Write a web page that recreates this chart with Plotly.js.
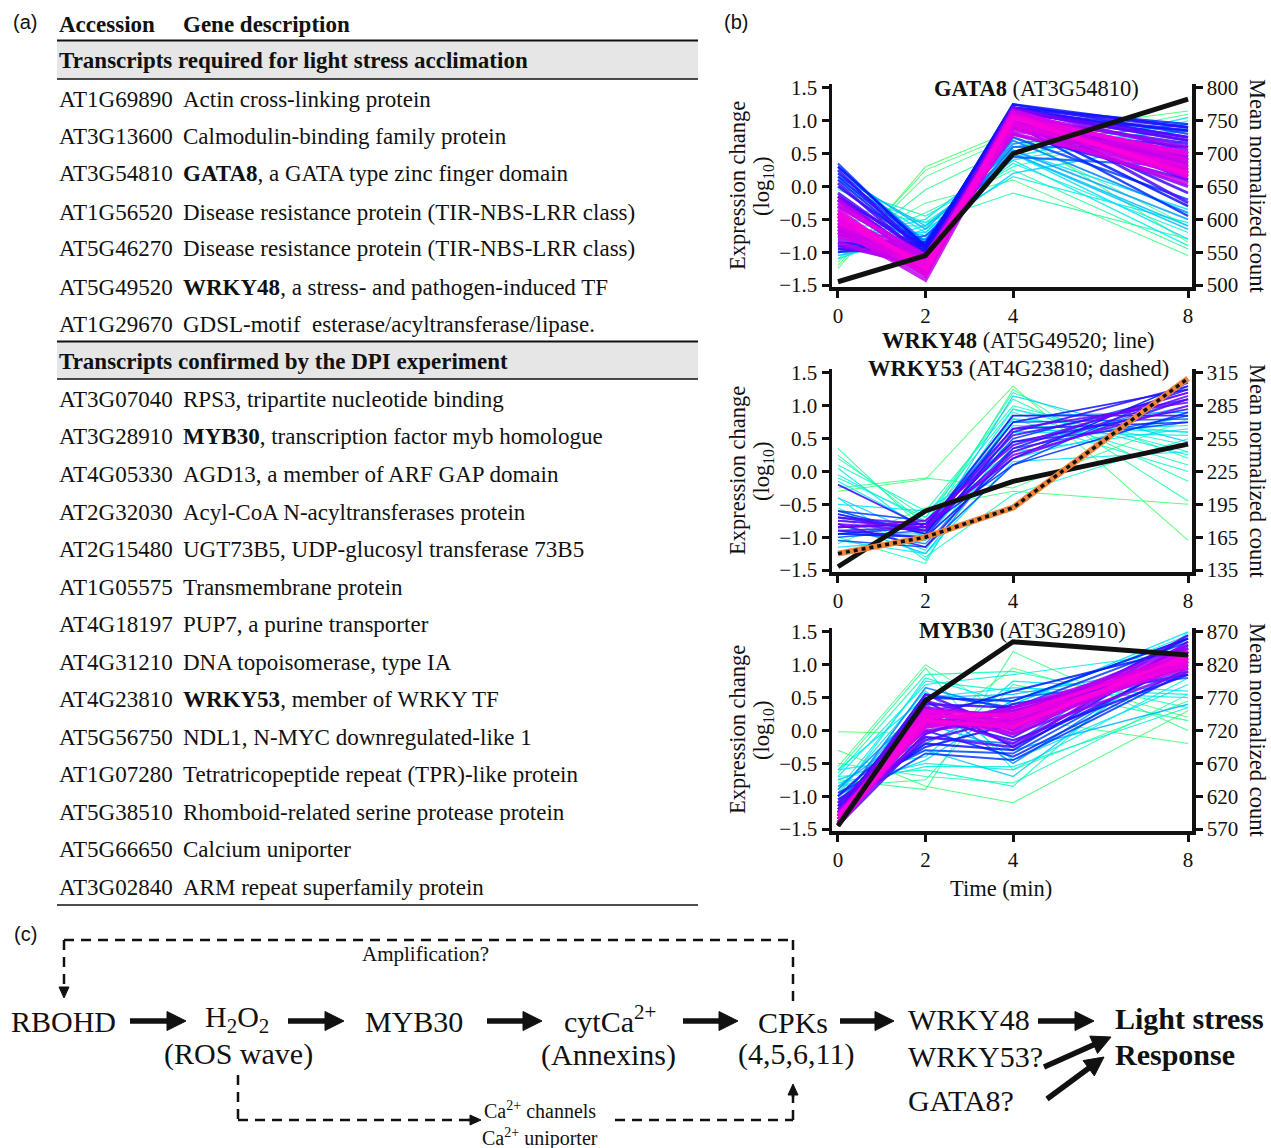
<!DOCTYPE html>
<html><head><meta charset="utf-8">
<script src="https://cdn.plot.ly/plotly-3.0.1.min.js"></script>
<style>html,body{margin:0;padding:0;background:#fff}#chart{width:1271px;height:1148px}</style>
</head><body><div id="chart"></div>
<script>
// ---------------- DATA ----------------
const times = [0, 2, 4, 8];
const timeTicks = [0, 2, 4, 8];

// Panel (a) table
const section1Title = "Transcripts required for light stress acclimation";
const section1Accessions = ["AT1G69890","AT3G13600","AT3G54810","AT1G56520","AT5G46270","AT5G49520","AT1G29670"];
const section1Descriptions = ["Actin cross-linking protein","Calmodulin-binding family protein","<b>GATA8</b>, a GATA type zinc finger domain","Disease resistance protein (TIR-NBS-LRR class)","Disease resistance protein (TIR-NBS-LRR class)","<b>WRKY48</b>, a stress- and pathogen-induced TF","GDSL-motif  esterase/acyltransferase/lipase."];
const section2Title = "Transcripts confirmed by the DPI experiment";
const section2Accessions = ["AT3G07040","AT3G28910","AT4G05330","AT2G32030","AT2G15480","AT1G05575","AT4G18197","AT4G31210","AT4G23810","AT5G56750","AT1G07280","AT5G38510","AT5G66650","AT3G02840"];
const section2Descriptions = ["RPS3, tripartite nucleotide binding","<b>MYB30</b>, transcription factor myb homologue","AGD13, a member of ARF GAP domain","Acyl-CoA N-acyltransferases protein","UGT73B5, UDP-glucosyl transferase 73B5","Transmembrane protein","PUP7, a purine transporter","DNA topoisomerase, type IA","<b>WRKY53</b>, member of WRKY TF","NDL1, N-MYC downregulated-like 1","Tetratricopeptide repeat (TPR)-like protein","Rhomboid-related serine protease protein","Calcium uniporter","ARM repeat superfamily protein"];

// Panel (b) cluster profiles, expression change (log10) at times 0,2,4,8
const gata8Profiles = [
 [-1.25,0.30,0.85,-0.85],[-1.20,0.25,0.80,1.15],[-1.15,0.15,0.75,-0.60],[-1.10,-0.05,0.60,1.10],
 [-1.00,-0.25,0.10,-1.05],[-0.95,-0.40,0.25,-0.95],[-0.05,-0.55,-0.10,-0.80],[0.00,-0.45,0.30,1.00],
 [-0.30,-0.55,0.35,-0.70],[-0.60,-0.60,0.40,0.90],[-1.10,-0.65,0.15,-0.55],[0.10,-0.70,0.45,1.05],
 [-0.80,-0.50,0.55,-0.35],[-0.45,-0.75,0.20,0.70],[-1.05,-0.80,0.50,-0.65],[0.20,-0.65,0.60,0.85],
 [-0.90,-0.85,0.55,-0.50],[-0.70,-0.80,0.65,0.95],[0.30,-0.85,0.70,-0.40],[-0.20,-0.90,0.60,0.60],
 [-1.00,-0.75,0.45,0.30],[-0.85,-0.95,0.75,-0.20],[0.35,-0.95,1.25,0.80],[0.20,-0.90,1.20,0.95],
 [0.10,-1.00,1.15,0.70],[-0.95,-0.85,1.10,0.85],[-0.85,-1.00,1.00,-0.30],[-0.75,-0.90,0.90,0.60],
 [0.00,-0.95,1.05,0.50],[-0.60,-1.05,1.20,0.90],[-0.90,-1.00,0.80,0.10],[0.25,-1.05,1.10,-0.10],
 [-0.10,-1.05,1.10,0.40],[-0.30,-1.10,1.15,0.70],[-0.70,-1.15,1.00,0.20],[-0.50,-1.20,1.20,0.55],
 [-0.20,-1.10,0.95,0.00],[-0.80,-1.05,1.05,0.35],[-0.40,-1.25,1.10,0.60],[-0.25,-1.15,1.05,0.30],
 [-0.55,-1.20,1.00,0.45],[-0.85,-1.25,0.95,0.15],[-0.35,-1.30,1.10,0.25],[-0.65,-1.42,1.00,0.35],
 [-0.45,-1.10,0.90,0.05],[-0.75,-1.15,0.85,0.50],[-0.30,-1.05,0.80,0.20],[-0.60,-1.30,1.15,0.40],
 [-0.50,-1.20,0.95,0.30],[-0.40,-1.25,1.05,0.20],
 [-0.70,-0.70,0.50,-0.80],[-0.95,-0.60,0.40,-0.90],[0.15,-0.60,0.50,-0.60],[0.30,-0.90,1.20,0.75],
 [0.15,-0.95,1.25,0.90],[-0.15,-1.00,1.15,0.85],[-1.00,-0.90,0.95,-0.45],[-0.95,-1.05,1.05,0.65],
 [0.05,-1.10,1.20,-0.25],[-0.65,-1.10,1.15,0.75],[-0.15,-1.15,1.20,0.10],[-0.90,-1.20,0.90,0.45],
 [-0.60,-1.35,1.05,0.50],[-0.20,-1.20,1.00,0.40],[-0.70,-1.30,0.90,0.25],[-0.45,-1.35,1.10,0.15],
 [-0.55,-1.15,1.05,0.50]
];
const gata8Membership = [0.02,0.05,0.08,0.10,0.06,0.12,0.15,0.18,0.25,0.28,0.30,0.32,0.35,0.38,0.40,0.42,
 0.45,0.48,0.50,0.52,0.55,0.58,0.60,0.62,0.63,0.64,0.66,0.67,0.68,0.70,0.71,0.72,0.75,0.77,0.78,0.80,
 0.81,0.83,0.85,0.87,0.88,0.89,0.90,0.91,0.92,0.93,0.94,0.95,0.97,1.00,
 0.35,0.30,0.40,0.65,0.66,0.69,0.62,0.73,0.74,0.76,0.79,0.82,0.86,0.90,0.93,0.96,0.98];

const wrky48Profiles = [
 [-0.30,-0.12,1.30,-1.05],[-1.10,-0.55,-0.30,-0.50],[-0.25,-0.10,-0.25,0.80],[0.35,-0.90,1.25,-0.45],
 [0.20,-0.70,1.10,-0.15],[-1.00,-1.40,0.90,0.10],[0.10,-0.60,1.00,0.30],[-0.55,-1.30,-0.35,0.50],
 [-0.05,-0.75,0.80,0.00],[-0.70,-1.20,0.70,0.60],[-0.95,-0.95,0.95,0.25],[-0.15,-0.85,0.20,0.85],
 [-1.15,-1.05,0.60,0.70],[-0.40,-1.00,1.15,0.45],[-0.80,-1.25,0.40,1.00],[-0.65,-0.90,0.85,0.90],
 [-0.90,-1.10,0.30,1.10],[-0.75,-0.85,0.75,0.80],[-1.05,-1.15,0.10,1.30],[-0.60,-0.95,0.50,1.20],
 [-0.85,-0.80,0.65,0.75],[-0.95,-1.00,0.20,1.35],[-0.70,-0.90,0.45,0.95],[-0.20,-0.85,0.85,0.85],
 [-0.80,-1.15,0.35,1.25],[-0.85,-0.80,0.55,1.10],[-0.90,-0.85,0.30,1.15],[-0.80,-0.90,0.65,1.05],
 [-0.85,-0.75,0.40,1.20],[-0.75,-0.85,0.25,1.00],
 [-0.65,-0.95,0.75,1.25],[-0.95,-0.85,0.10,0.90],[-0.90,-1.00,0.60,1.30],[-0.70,-0.80,0.20,1.10],
 [-0.60,-0.75,0.45,0.75],[-1.00,-0.90,0.35,0.85],[0.25,-0.80,1.20,0.20],[-0.10,-0.70,0.95,0.40],
 [-0.40,-1.35,0.60,0.55],[-1.05,-1.25,0.15,0.30],[0.05,-0.95,0.80,0.60],[-0.50,-0.60,0.30,0.65]
];
const wrky48Membership = [0.02,0.05,0.08,0.12,0.15,0.18,0.20,0.22,0.25,0.28,0.30,0.32,0.35,0.38,0.40,
 0.45,0.50,0.55,0.58,0.60,0.63,0.65,0.68,0.70,0.72,0.74,0.76,0.78,0.80,0.80,
 0.66,0.62,0.70,0.75,0.60,0.57,0.15,0.22,0.28,0.33,0.30,0.35];

const myb30Profiles = [
 [-0.02,-0.05,0.95,0.20],[-0.30,-0.85,-1.10,0.30],[-0.55,1.00,0.20,-0.20],[-0.75,-0.90,1.20,0.00],
 [-0.60,0.95,-0.60,0.45],[-0.85,-0.75,0.70,0.15],[-0.50,-0.70,-0.80,0.55],[-0.65,0.85,0.90,0.35],
 [-0.70,-0.60,-0.85,1.50],[-0.90,0.75,0.60,0.50],[-0.80,-0.50,-0.60,0.80],[-1.00,0.80,0.40,1.45],
 [-0.60,-0.40,0.75,0.60],[-0.95,0.60,-0.45,0.70],[-0.75,-0.30,-0.70,1.30],[-1.10,0.50,0.55,1.00],
 [-0.85,0.10,-0.30,0.40],[-1.05,-0.20,0.45,1.40],[-0.90,0.40,-0.50,1.20],[-1.15,0.65,0.30,0.90],
 [-1.00,-0.10,-0.20,1.45],[-1.20,0.30,0.50,0.80],[-0.95,-0.30,-0.35,1.10],[-1.25,0.55,0.35,1.35],
 [-1.10,0.00,-0.40,0.95],[-1.30,0.20,0.60,1.25],[-1.05,-0.25,0.10,1.40],[-1.20,0.45,-0.25,1.05],
 [-1.35,-0.05,0.40,0.85],[-1.15,0.35,-0.10,1.30],[-1.25,-0.15,0.20,1.15],[-1.30,0.55,0.00,1.45],
 [-1.10,0.10,0.30,0.95],[-1.40,0.25,-0.20,1.20],[-1.20,0.00,0.15,1.10],[-1.35,0.30,0.25,1.30],
 [-1.25,0.15,0.05,1.00],[-1.45,0.35,0.20,1.15],[-1.30,0.05,0.30,1.05],[-1.40,0.20,-0.05,1.20],
 [-1.35,0.25,0.15,0.95],[-1.45,0.10,0.10,1.10],[-1.30,0.30,0.20,1.00],[-1.40,0.15,0.05,1.15],
 [-1.15,-0.35,-0.45,0.90],[-1.30,0.50,0.45,1.40],[-1.20,-0.20,-0.30,1.25],[-1.35,0.40,0.35,1.00],
 [-1.00,0.20,-0.15,0.85],[-1.45,-0.10,-0.25,1.35],[-1.25,0.45,0.10,1.25],[-1.40,-0.05,0.35,1.05],
 [-1.30,0.35,-0.05,0.90],[-1.45,0.20,0.25,1.25],[-1.25,0.10,0.35,1.15],[-1.40,0.30,0.00,1.05],
 [-1.35,0.05,0.20,1.20],[-1.45,0.25,0.10,1.05],[-1.30,0.20,0.25,1.10],
 [-0.70,0.70,0.85,1.20],[-0.85,-0.55,-0.55,0.35],[-0.60,0.50,0.65,0.55],[-0.95,-0.45,0.40,1.50]
];
const myb30Membership = [0.02,0.04,0.06,0.08,0.10,0.12,0.15,0.18,0.22,0.25,0.28,0.30,0.33,0.35,0.38,0.40,
 0.42,0.45,0.48,0.50,0.52,0.55,0.58,0.60,0.62,0.64,0.66,0.68,0.70,0.72,0.74,0.76,0.78,0.80,0.82,0.84,
 0.86,0.88,0.90,0.92,0.94,0.96,0.98,1.00,
 0.60,0.63,0.67,0.71,0.69,0.75,0.79,0.81,0.83,0.87,0.89,0.91,0.95,0.97,0.99,
 0.30,0.27,0.32,0.36];

// Mean normalized counts (right axes)
const gata8Count = [505, 545, 700, 783];
const wrky48Count = [138, 189, 216, 250];
const wrky53Count = [150, 165, 192, 310];
const myb30Count = [575, 765, 855, 835];

const leftTicks = [-1.5,-1.0,-0.5,0.0,0.5,1.0,1.5];
const gata8RightTicks = [500,550,600,650,700,750,800];
const wrky48RightTicks = [135,165,195,225,255,285,315];
const myb30RightTicks = [570,620,670,720,770,820,870];

// ---------------- HELPERS ----------------
const W = 1271, H = 1148;
const px = x => x / W;
const py = y => 1 - y / H;
const SERIF = "Liberation Serif, Times New Roman, serif";
const SANS = "Liberation Sans, Arial, sans-serif";
const INK = "#111111";

const colorStops = [
  [0.00, [70,255,90]], [0.20, [0,255,190]], [0.35, [0,225,255]], [0.50, [0,130,255]],
  [0.65, [0,20,255]], [0.80, [125,0,255]], [1.00, [255,0,220]]
];
function memberColor(m) {
  for (let i = 1; i < colorStops.length; i++) {
    if (m <= colorStops[i][0]) {
      const [a, ca] = colorStops[i-1], [b, cb] = colorStops[i];
      const t = (m - a) / (b - a);
      const c = ca.map((v, k) => Math.round(v + (cb[k] - v) * t));
      return `rgb(${c[0]},${c[1]},${c[2]})`;
    }
  }
  return "rgb(255,0,220)";
}

const traces = [];
function addCluster(profiles, membership, xa, ya, widthGain) {
  const idx = profiles.map((_, i) => i).sort((a, b) => membership[a] - membership[b]);
  idx.forEach(i => {
    const m = membership[i];
    traces.push({
      x: times, y: profiles[i], xaxis: xa, yaxis: ya, type: "scatter", mode: "lines",
      line: {color: memberColor(m), width: 1 + widthGain * m * m},
      opacity: 0.85, hoverinfo: "skip", showlegend: false
    });
  });
}
function addCount(values, xa, ya, style) {
  traces.push(Object.assign({x: times, y: values, xaxis: xa, yaxis: ya, type: "scatter",
    mode: "lines", hoverinfo: "skip", showlegend: false}, style));
}

addCluster(gata8Profiles, gata8Membership, "x", "y", 3.6);
addCount(gata8Count, "x", "y2", {line: {color: INK, width: 5}});
addCluster(wrky48Profiles, wrky48Membership, "x2", "y3", 1.6);
addCount(wrky48Count, "x2", "y4", {line: {color: INK, width: 5}});
addCount(wrky53Count, "x2", "y4", {line: {color: "#f0843a", width: 6}});
addCount(wrky53Count, "x2", "y4", {line: {color: INK, width: 3.5, dash: "4px,4px"}});
addCluster(myb30Profiles, myb30Membership, "x3", "y5", 2.6);
addCount(myb30Count, "x3", "y6", {line: {color: INK, width: 5}});

// ---------------- AXES ----------------
const xDomain = [px(832), px(1192)];
const tickFont = {family: SERIF, size: 21, color: INK};
function xAxis(anchor) {
  return {domain: xDomain, anchor: anchor, range: [-0.137, 8.09], tickvals: timeTicks,
    ticks: "outside", ticklen: 7, tickwidth: 3, tickcolor: INK, showline: true, linewidth: 3.5,
    linecolor: INK, showgrid: false, zeroline: false, tickfont: tickFont, fixedrange: true};
}
function yLeft(domTop, domBot, anchor) {
  return {domain: [py(domBot), py(domTop)], anchor: anchor, range: [-1.53, 1.56],
    tickvals: leftTicks, tickformat: ".1f", ticks: "outside", ticklen: 7, tickwidth: 3,
    tickcolor: INK, showline: true, linewidth: 3.5, linecolor: INK, showgrid: false,
    zeroline: false, tickfont: tickFont, fixedrange: true};
}
function yRight(over, anchor, center, scale, ticks) {
  return {overlaying: over, anchor: anchor, side: "right",
    range: [center - 1.53 * scale, center + 1.56 * scale], tickvals: ticks, ticks: "outside",
    ticklen: 7, tickwidth: 3, tickcolor: INK, showline: true, linewidth: 3.5, linecolor: INK,
    showgrid: false, zeroline: false, tickfont: tickFont, fixedrange: true};
}

// ---------------- ANNOTATIONS ----------------
const annotations = [];
function text(t, x, y, size, opts) {
  annotations.push(Object.assign({text: t, x: px(x), y: py(y), xref: "paper", yref: "paper",
    showarrow: false, xanchor: "center", yanchor: "middle",
    font: {family: SERIF, size: size, color: INK}}, opts || {}));
}

// panel labels
text("(a)", 25, 22, 20, {font: {family: SANS, size: 20, color: INK}});
text("(b)", 736, 22, 20, {font: {family: SANS, size: 20, color: INK}});
text("(c)", 25, 934, 20, {font: {family: SANS, size: 20, color: INK}});

// table
const TF = 23;
text("<b>Accession</b>", 57, 24, TF, {xanchor: "left"});
text("<b>Gene description</b>", 181, 24, TF, {xanchor: "left"});
text("<b>" + section1Title + "</b>", 57, 61, TF, {xanchor: "left"});
const rows1Y = [99, 137, 174, 212, 249, 287, 324];
section1Accessions.forEach((a, i) => {
  text(a, 57, rows1Y[i], TF, {xanchor: "left"});
  text(section1Descriptions[i], 181, rows1Y[i], TF, {xanchor: "left"});
});
text("<b>" + section2Title + "</b>", 57, 361, TF, {xanchor: "left"});
const rows2Y = [399, 437, 474, 512, 549, 587, 624, 662, 699, 737, 774, 812, 849, 887];
section2Accessions.forEach((a, i) => {
  text(a, 57, rows2Y[i], TF, {xanchor: "left"});
  text(section2Descriptions[i], 181, rows2Y[i], TF, {xanchor: "left"});
});

// chart titles
text("<b>GATA8</b> (AT3G54810)", 1036, 89, 22.5);
text("<b>WRKY48</b> (AT5G49520; line)", 1018, 341, 22.5);
text("<b>WRKY53</b> (AT4G23810; dashed)", 1018, 369, 22.5);
text("<b>MYB30</b> (AT3G28910)", 1022, 630, 22.5);
[186, 471, 730].forEach(cy => {
  text("Expression change", 737, cy, 22.5, {textangle: -90});
  text("(log<sub>10</sub>)", 763, cy, 22.5, {textangle: -90});
  text("Mean normalized count", 1258, cy, 22.5, {textangle: 90});
});
text("Time (min)", 1001, 888, 22.5);

// panel (c) diagram
text("Amplification?", 425, 954, 21);
text("RBOHD", 63, 1021, 30);
text("H<sub>2</sub>O<sub>2</sub>", 237, 1019, 30);
text("(ROS wave)", 238, 1054, 30);
text("MYB30", 414, 1021, 30);
text("cytCa<sup>2+</sup>", 610, 1019, 30);
text("(Annexins)", 608, 1055, 30);
text("CPKs", 793, 1022, 30);
text("(4,5,6,11)", 796, 1054, 30);
text("WRKY48", 906, 1019, 30, {xanchor: "left"});
text("WRKY53?", 906, 1056, 30, {xanchor: "left"});
text("GATA8?", 906, 1100, 30, {xanchor: "left"});
text("<b>Light stress</b>", 1113, 1018, 30, {xanchor: "left"});
text("<b>Response</b>", 1113, 1054, 30, {xanchor: "left"});
text("Ca<sup>2+</sup> channels", 482, 1110, 20, {xanchor: "left"});
text("Ca<sup>2+</sup> uniporter", 480, 1137, 20, {xanchor: "left"});

// ---------------- SHAPES ----------------
const shapes = [];
function rect(x0, y0, x1, y1, fill) {
  shapes.push({type: "rect", xref: "paper", yref: "paper", x0: px(x0), x1: px(x1),
    y0: py(y1), y1: py(y0), fillcolor: fill, line: {width: 0}, layer: "below"});
}
function seg(x0, y0, x1, y1, w, dash) {
  shapes.push({type: "line", xref: "paper", yref: "paper", x0: px(x0), x1: px(x1),
    y0: py(y0), y1: py(y1), line: {color: INK, width: w, dash: dash || "solid"}});
}
function arrow(x0, y0, x1, y1, w, headLen, headHalf) {
  const L = Math.hypot(x1 - x0, y1 - y0), dx = (x1 - x0) / L, dy = (y1 - y0) / L;
  const bx = x1 - dx * headLen, by = y1 - dy * headLen;
  const nx = -dy, ny = dx;
  if (L > headLen + 1) seg(x0, y0, bx + dx * 2, by + dy * 2, w);
  const pts = [[x1, y1], [bx + nx * headHalf, by + ny * headHalf], [bx - nx * headHalf, by - ny * headHalf]];
  shapes.push({type: "path", xref: "paper", yref: "paper",
    path: "M" + pts.map(p => px(p[0]) + "," + py(p[1])).join("L") + "Z",
    fillcolor: INK, line: {color: INK, width: 1}});
}
rect(57, 41, 698, 79, "#e6e6e6");
rect(57, 342, 698, 379, "#e6e6e6");
seg(57, 40.5, 698, 40.5, 2);
seg(57, 79, 698, 79, 1.5);
seg(57, 341.5, 698, 341.5, 2);
seg(57, 379, 698, 379, 1.5);
seg(57, 905, 698, 905, 1.5);

const DASH = "10px,7px";
seg(64, 940, 793, 940, 2.5, DASH);
seg(793, 940, 793, 1004, 2.5, DASH);
seg(64, 940, 64, 990, 2.5, DASH);
seg(238, 1075, 238, 1120, 2.5, DASH);
seg(238, 1120, 472, 1120, 2.5, DASH);
seg(615, 1120, 793, 1120, 2.5, DASH);
seg(793, 1120, 793, 1094, 2.5, DASH);

arrow(130, 1021, 186, 1021, 5.5, 19, 9.5);
arrow(288, 1021, 344, 1021, 5.5, 19, 9.5);
arrow(487, 1021, 542, 1021, 5.5, 19, 9.5);
arrow(683, 1021, 738, 1021, 5.5, 19, 9.5);
arrow(840, 1021, 894, 1021, 5.5, 19, 9.5);
arrow(1038, 1021, 1094, 1021, 5.5, 19, 9.5);
arrow(1044, 1067, 1111, 1037, 5.5, 19, 9.5);
arrow(1047, 1099, 1104, 1057, 5.5, 19, 9.5);
arrow(64, 986, 64, 998, 2.5, 11, 5);
arrow(468, 1120, 481, 1120, 2.5, 11, 5);
arrow(793, 1097, 793, 1084, 2.5, 11, 5);

// ---------------- LAYOUT ----------------
const layout = {
  width: W, height: H, margin: {l: 0, r: 0, t: 0, b: 0},
  paper_bgcolor: "#ffffff", plot_bgcolor: "rgba(0,0,0,0)", showlegend: false,
  font: {family: SERIF, color: INK},
  xaxis: xAxis("y"), xaxis2: xAxis("y3"), xaxis3: xAxis("y5"),
  yaxis: yLeft(84, 287, "x"),
  yaxis2: yRight("y", "x", 650, 100, gata8RightTicks),
  yaxis3: yLeft(369, 572, "x2"),
  yaxis4: yRight("y3", "x2", 225, 60, wrky48RightTicks),
  yaxis5: yLeft(628, 831, "x3"),
  yaxis6: yRight("y5", "x3", 720, 100, myb30RightTicks),
  annotations: annotations, shapes: shapes
};

Plotly.newPlot("chart", traces, layout, {staticPlot: true, displayModeBar: false});
</script>
</body></html>
